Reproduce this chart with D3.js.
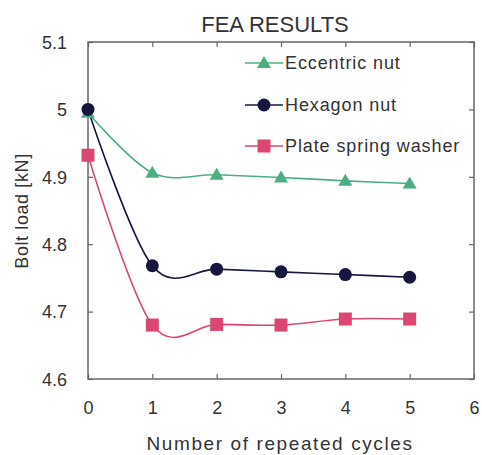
<!DOCTYPE html>
<html><head><meta charset="utf-8">
<script src="https://cdn.jsdelivr.net/npm/d3@7"></script>
<style>body{margin:0;background:#fff}svg{display:block}text{font-family:"Liberation Sans",Arial,sans-serif;fill:#333}</style>
</head><body><svg id="c" width="482" height="455"></svg>
<script>
const cycles = [0, 1, 2, 3, 4, 5];
const eccentric = [4.995, 4.906, 4.903, 4.899, 4.894, 4.890];
const hexagon = [5.000, 4.768, 4.763, 4.759, 4.755, 4.751];
const plate = [4.932, 4.680, 4.681, 4.680, 4.689, 4.689];
const seriesNames = ["Eccentric nut", "Hexagon nut", "Plate spring washer"];
const xTicks = [0, 1, 2, 3, 4, 5, 6];
const yTicks = [4.6, 4.7, 4.8, 4.9, 5.0, 5.1];

const svg = d3.select("#c");
const L = 88, R = 474, T = 42, B = 379;
const x = d3.scaleLinear().domain([0, 6]).range([L, R]);
const y = d3.scaleLinear().domain([4.6, 5.1]).range([B, T]);

const colors = ["#4caf84", "#16163e", "#dc4673"];
const shapes = ["tri", "circ", "sq"];
const data = [eccentric, hexagon, plate];

// frame
svg.append("rect").attr("x", L).attr("y", T).attr("width", R - L).attr("height", B - T)
  .attr("fill", "none").attr("stroke", "#666").attr("stroke-width", 1.5);

// axes with inner ticks
const gx = svg.append("g").attr("transform", `translate(0,${B})`)
  .call(d3.axisBottom(x).tickValues(xTicks).tickSize(-5).tickPadding(22).tickFormat(d3.format("d")));
const gxt = svg.append("g").attr("transform", `translate(0,${T})`)
  .call(d3.axisTop(x).tickValues(xTicks).tickSize(-5).tickFormat(""));
const gy = svg.append("g").attr("transform", `translate(${L},0)`)
  .call(d3.axisLeft(y).tickValues(yTicks).tickSize(-5).tickPadding(21).tickFormat(d => d3.format("~g")(d)));
const gyr = svg.append("g").attr("transform", `translate(${R},0)`)
  .call(d3.axisRight(y).tickValues(yTicks).tickSize(-5).tickFormat(""));
[gx, gxt, gy, gyr].forEach(g => {
  g.select(".domain").remove();
  g.selectAll(".tick line").attr("stroke", "#666").attr("stroke-width", 1.2);
  g.selectAll("text").attr("font-size", 18).attr("fill", "#333").attr("font-family", '"Liberation Sans",Arial,sans-serif');
});
gy.selectAll("text").attr("dy", "0.35em");

// lines
const line = d3.line().x((d, i) => x(cycles[i])).y(d => y(d)).curve(d3.curveCardinal.tension(0));
data.forEach((s, k) => {
  svg.append("path").datum(s).attr("d", line).attr("fill", "none")
    .attr("stroke", colors[k]).attr("stroke-width", 1.6);
});

function marker(g, shape, cx, cy, col) {
  if (shape === "circ") g.append("circle").attr("cx", cx).attr("cy", cy).attr("r", 6.5).attr("fill", col);
  else if (shape === "sq") g.append("rect").attr("x", cx - 6.5).attr("y", cy - 6.5).attr("width", 13).attr("height", 13).attr("fill", col);
  else g.append("path").attr("d", `M${cx},${cy - 7}L${cx + 7},${cy + 5}L${cx - 7},${cy + 5}Z`).attr("fill", col);
}
// draw in order: plate, eccentric, hexagon (hexagon on top at x=0)
[2, 0, 1].forEach(k => {
  const g = svg.append("g");
  data[k].forEach((v, i) => marker(g, shapes[k], x(cycles[i]), y(v), colors[k]));
});

// legend
const legY = [63, 105, 146];
seriesNames.forEach((n, k) => {
  const g = svg.append("g");
  g.append("line").attr("x1", 245).attr("x2", 283).attr("y1", legY[k]).attr("y2", legY[k])
    .attr("stroke", colors[k]).attr("stroke-width", 1.6);
  marker(g, shapes[k], 264, legY[k], colors[k]);
  g.append("text").attr("x", 285).attr("y", legY[k]).attr("dy", "0.36em")
    .attr("font-size", 18).attr("letter-spacing", 0.9).text(n);
});

// title
svg.append("text").attr("x", 275).attr("y", 32).attr("text-anchor", "middle")
  .attr("font-size", 22).text("FEA RESULTS");
// axis titles
svg.append("text").attr("x", 280).attr("y", 450).attr("text-anchor", "middle")
  .attr("font-size", 19).attr("letter-spacing", 1.6).text("Number of repeated cycles");
svg.append("text").attr("transform", "translate(28,211) rotate(-90)").attr("text-anchor", "middle")
  .attr("font-size", 18).attr("letter-spacing", 0.6).text("Bolt load [kN]");
</script></body></html>
